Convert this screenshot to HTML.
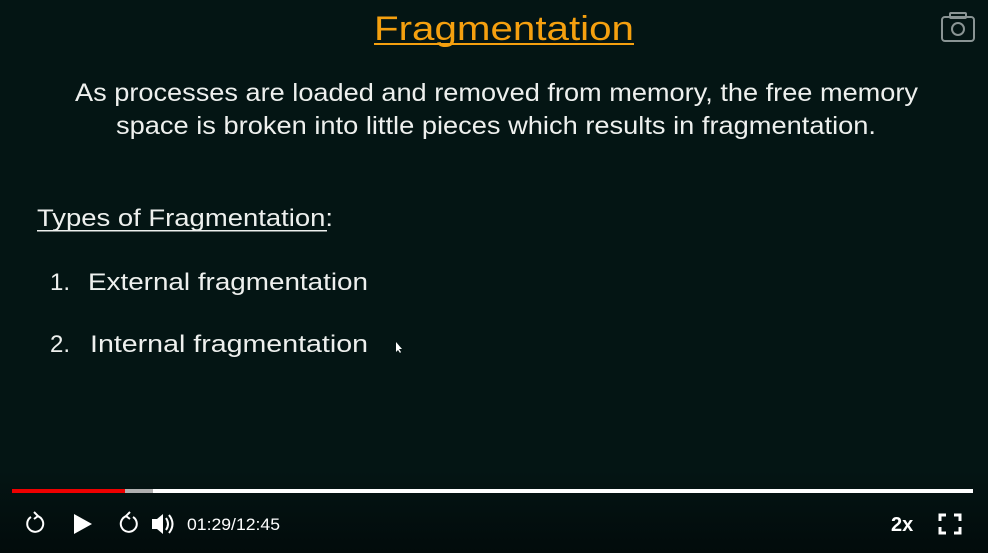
<!DOCTYPE html>
<html><head><meta charset="utf-8"><style>
html,body{margin:0;padding:0;background:#041514;}
svg{display:block}
text{font-family:"Liberation Sans",sans-serif;}
</style></head><body>
<svg width="988" height="553" viewBox="0 0 988 553" xmlns="http://www.w3.org/2000/svg">
<defs><linearGradient id="g" x1="0" y1="0" x2="0" y2="1"><stop offset="0" stop-color="#041514"/><stop offset="1" stop-color="#020b0b"/></linearGradient></defs>
<rect width="988" height="553" fill="#041514"/>
<rect y="470" width="988" height="83" fill="url(#g)"/>
<text x="374" y="40" font-size="34" fill="#f5a00f" textLength="260" lengthAdjust="spacingAndGlyphs">Fragmentation</text>
<rect x="374" y="43" width="260" height="2" fill="#f5a00f"/>
<rect x="942" y="17" width="32" height="24" rx="3" fill="none" stroke="#8a9494" stroke-width="2"/>
<rect x="950" y="13" width="16" height="5" rx="1" fill="none" stroke="#8a9494" stroke-width="2"/>
<circle cx="958" cy="29" r="6" fill="none" stroke="#8a9494" stroke-width="2"/>
<text x="75" y="101" font-size="25" fill="#eef0ee" textLength="843" lengthAdjust="spacingAndGlyphs">As processes are loaded and removed from memory, the free memory</text>
<text x="116" y="134" font-size="25" fill="#eef0ee" textLength="760" lengthAdjust="spacingAndGlyphs">space is broken into little pieces which results in fragmentation.</text>
<text x="37" y="226" font-size="24" fill="#eef0ee" textLength="296" lengthAdjust="spacingAndGlyphs">Types of Fragmentation:</text>
<rect x="37" y="230" width="290" height="1.5" fill="#eef0ee"/>
<text x="50" y="290" font-size="24" fill="#eef0ee">1.</text>
<text x="88" y="290" font-size="24" fill="#eef0ee" textLength="280" lengthAdjust="spacingAndGlyphs">External fragmentation</text>
<text x="50" y="352" font-size="24" fill="#eef0ee">2.</text>
<text x="90" y="352" font-size="24" fill="#eef0ee" textLength="278" lengthAdjust="spacingAndGlyphs">Internal fragmentation</text>
<path d="M396 342 l0 10 l2 -2 l2 3 l1 -1 l-2 -3 l3 0 z" fill="#fff"/>
<rect x="12" y="489" width="961" height="4" fill="#ffffff"/>
<rect x="12" y="489" width="141" height="4" fill="#b0b0b0"/>
<rect x="12" y="489" width="113" height="4" fill="#ee0000"/>
<path d="M31 517 a8 8 0 1 0 6 -1" fill="none" stroke="#fff" stroke-width="2"/>
<path d="M34 512 l4 4 l-4 3" fill="none" stroke="#fff" stroke-width="2"/>
<path d="M74 514 l18 10 l-18 10 z" fill="#fff"/>
<path d="M133 517 a8 8 0 1 1 -6 -1" fill="none" stroke="#fff" stroke-width="2"/>
<path d="M130 512 l-4 4 l4 3" fill="none" stroke="#fff" stroke-width="2"/>
<path d="M152 519 h5 l6 -5 v20 l-6 -5 h-5 z" fill="#fff"/>
<path d="M166 518 q4 6 0 12 M169 515 q7 9 0 18" fill="none" stroke="#fff" stroke-width="2"/>
<text x="187" y="530" font-size="17" fill="#fff" textLength="93" lengthAdjust="spacingAndGlyphs">01:29/12:45</text>
<text x="891" y="531" font-size="20" font-weight="bold" fill="#fff">2x</text>
<path d="M940 521 v-6 h6 M954 515 h6 v6 M960 527 v6 h-6 M946 533 h-6 v-6" fill="none" stroke="#fff" stroke-width="3"/>
</svg>
</body></html>
